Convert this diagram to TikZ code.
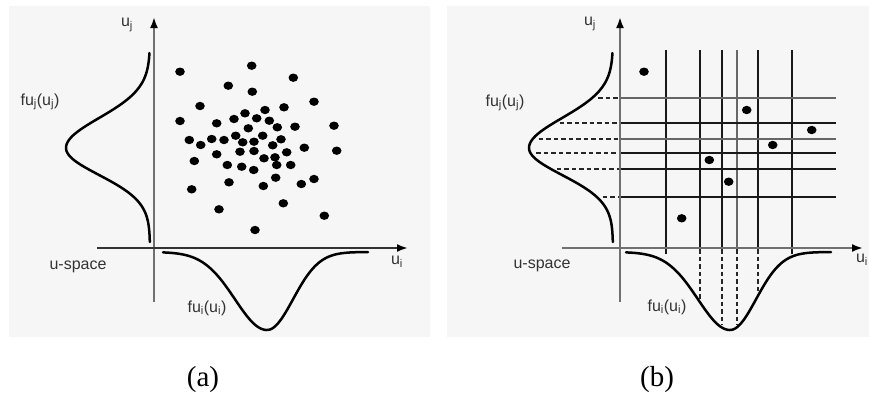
\documentclass[tikz,border=0pt]{standalone}
\usepackage{fontspec}
\setmainfont{Liberation Serif}
\newfontfamily\labfont{Liberation Sans}
\usetikzlibrary{arrows.meta}
\definecolor{bg}{HTML}{F6F6F6}
\definecolor{axgray}{HTML}{707070}
\definecolor{txt}{HTML}{333333}
\begin{document}
\begin{tikzpicture}[x=1pt,y=-1pt,
  declare function={
    ld(\t)=84*exp(-((\t-148)*(\t-148))/(((\t<148)?1800:1458)));
    bd(\t)=78*exp(-((\t-267)*(\t-267))/(((\t<267)?2048:1352)));
  },
  panel/.style={fill=bg,draw=none},
  vaxis/.style={line width=2.4pt,draw=axgray,-{Latex[length=11pt,width=8pt,color=black]}},
  haxis/.style={line width=2.4pt,-{Latex[length=11pt,width=8pt,color=black]}},
  curve/.style={line width=2.5pt,black,line cap=round},
  dot/.style={fill=black},
  lab/.style={font=\labfont\fontsize{16}{18}\selectfont,text=txt,inner sep=0pt},
  capt/.style={font=\fontsize{29}{32}\selectfont,inner sep=0pt},
  gridline/.style={line width=2pt,black!90},
  gridlight/.style={line width=2pt,black!60},
  guide/.style={line width=1.6pt,dash pattern=on 4.5pt off 3pt,black!85},
]
\useasboundingbox (0,0) rectangle (869,402);
\fill[white] (0,0) rectangle (869,402);
% ---------------- panel (a) ----------------
\fill[panel] (9,6) rectangle (430,337);
\coordinate (a-vb) at (154,302);
\coordinate (a-vt) at (154,17);
\coordinate (a-hl) at (97,248);
\coordinate (a-hr) at (408,248);
\draw[vaxis] (a-vb) -- (a-vt);
\draw[haxis,draw=black!80] (a-hl) -- (a-hr);
\draw[curve] plot[domain=53:242,samples=90] ({150-ld(\x)},\x);
\draw[curve] plot[domain=163:368,samples=100] (\x,{252+bd(\x)});
\foreach \p in {(180,71.7),(251.7,65.7),(293.3,77.7),(228.3,85.7),(252.3,91.7),(314,101.7),
  (200,106),(284,107.3),(180,121),(216.7,123.3),(234,119),(245,113.3),(265,110),(256.7,118.3),
  (269.3,120.7),(248.3,128.3),(277.3,127.3),(295,126.7),(334,125.7),(189.3,140),(200.7,145),
  (211.7,139),(224,140),(235.7,135.7),(242.7,142.3),(254,141.7),(262.7,135.7),(272.7,145.3),
  (281,139.3),(240,151.7),(254,151),(286.7,152.3),(304.3,147.7),(336.7,150.7),(216.7,154.3),
  (194.3,161),(227.3,165),(241.7,166.7),(253.7,170),(264,158.3),(275,157.3),(276.7,165),
  (290.7,165),(229,182.3),(263.3,186),(275.7,177.7),(301.3,184),(314,179),(191.7,189.3),
  (283.3,203.3),(219,209.3),(324.3,215.7),(255,230)}
  \fill[dot] \p ellipse[x radius=4.8pt,y radius=4.2pt];
\node[lab] (a-uj) at (127,25) {u\textsubscript{j}};
\node[lab] (a-fuj) at (40,102) {fu\textsubscript{j}(u\textsubscript{j})};
\node[lab] (a-us) at (78,267) {u-space};
\node[lab] (a-ui) at (397,262) {u\textsubscript{i}};
\node[lab] (a-fui) at (207,308) {fu\textsubscript{i}(u\textsubscript{i})};
\node[capt] (a-cap) at (203,380) {(a)};
% ---------------- panel (b) ----------------
\fill[panel] (447,6) rectangle (869,337);
\begin{scope}[xshift=466pt]
\coordinate (b-vb) at (154,302);
\coordinate (b-vt) at (154,17);
\coordinate (b-hl) at (96,248);
\coordinate (b-hr) at (397,248);
% grid
\foreach \gx in {200,234,256,292,326}
  \draw[gridline] (\gx,50) -- (\gx,254);
\draw[gridlight] (271,50) -- (271,254);
\foreach \gy in {123,153,169,197}
  \draw[gridline] (154,\gy) -- (370,\gy);
\foreach \gy in {98,139}
  \draw[gridlight] (154,\gy) -- (370,\gy);
% guides
\foreach \gy in {98,123,139,153,169,197}
  \draw[guide] ({153-ld(\gy)},\gy) -- (153,\gy);
\foreach \gx in {234,256,271,292}
  \draw[guide] (\gx,249) -- (\gx,{249+bd(\gx+3)});
\draw[vaxis] (b-vb) -- (b-vt);
\draw[haxis,draw=axgray] (b-hl) -- (b-hr);
\begin{scope}[xshift=-3pt]
\draw[curve] plot[domain=53:242,samples=90] ({150-ld(\x)},\x);
\draw[curve] plot[domain=163:368,samples=100] (\x,{252+bd(\x)});
\end{scope}
\foreach \p in {(178,71.7),(280.7,110),(345.7,130),(306.7,145),(243.3,160),(262.7,181.7),(215.7,218.3)}
  \fill[dot] \p ellipse[x radius=4.8pt,y radius=4.2pt];
\node[lab] (b-uj) at (124,24) {u\textsubscript{j}};
\node[lab] (b-fuj) at (39,103) {fu\textsubscript{j}(u\textsubscript{j})};
\node[lab] (b-us) at (76,266) {u-space};
\node[lab] (b-ui) at (396,260) {u\textsubscript{i}};
\node[lab] (b-fui) at (201,307) {fu\textsubscript{i}(u\textsubscript{i})};
\node[capt] (b-cap) at (191,380) {(b)};
\end{scope}
\end{tikzpicture}
\end{document}
